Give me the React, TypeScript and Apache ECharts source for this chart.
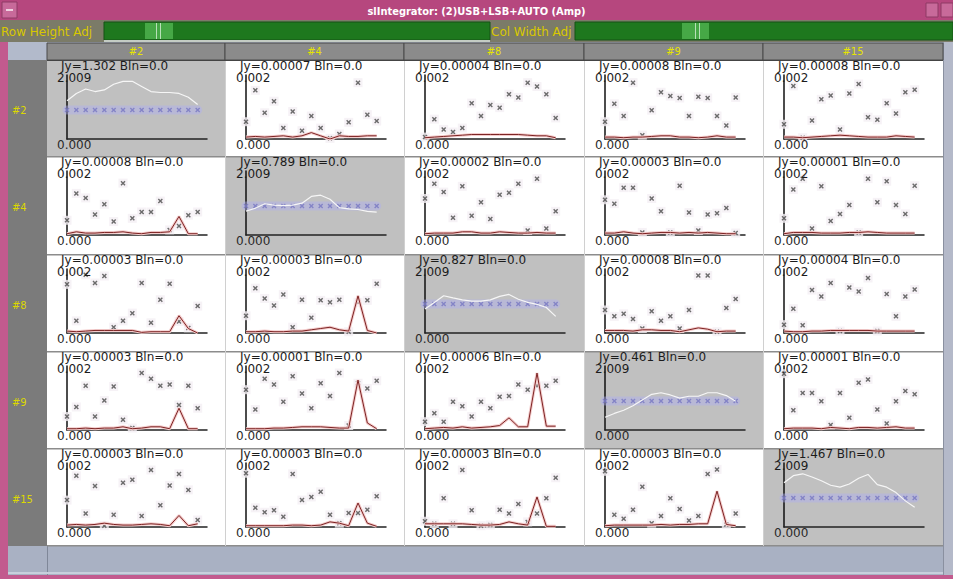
import React, { useEffect, useRef } from "react";
import * as echarts from "echarts";

// ---------- data ----------
const windowTitle = "slIntegrator: (2)USB+LSB+AUTO (Amp)";
const rowAdjLabel = "Row Height Adj";
const colAdjLabel = "Col Width Adj";
const antennas = ["#2", "#4", "#8", "#9", "#15"];
const jyValues = [
  ["1.302", "0.00007", "0.00004", "0.00008", "0.00008"],
  ["0.00008", "0.789", "0.00002", "0.00003", "0.00001"],
  ["0.00003", "0.00003", "0.827", "0.00008", "0.00004"],
  ["0.00003", "0.00001", "0.00006", "0.461", "0.00001"],
  ["0.00003", "0.00003", "0.00003", "0.00003", "1.467"],
];
const blnValue = "0.0";
const diagAxisMax = 2.009;
const crossAxisMax = 0.002;
const axisMin = 0;
const sampleCount = 15;

// diagonal (autocorrelation) cells
const closure = [0.91, 0.91, 0.91, 0.91, 0.91, 0.91, 0.91, 0.91, 0.91, 0.91, 0.91, 0.91, 0.91, 0.91, 0.91];
const amp_2_2 = [1.2, 1.43, 1.57, 1.49, 1.54, 1.72, 1.81, 1.81, 1.65, 1.49, 1.46, 1.46, 1.43, 1.31, 1.08];
const amp_4_4 = [0.75, 0.84, 0.98, 0.94, 0.92, 0.94, 1.0, 1.21, 1.25, 1.12, 0.86, 0.82, 0.8, 0.74, 0.72];
const amp_8_8 = [0.75, 0.96, 1.17, 1.1, 1.04, 1.0, 1.0, 1.04, 1.15, 1.21, 1.06, 0.96, 0.9, 0.8, 0.52];
const amp_9_9 = [0.4, 0.52, 0.62, 0.76, 0.94, 1.12, 1.17, 1.1, 1.0, 1.06, 1.06, 1.17, 1.17, 1.08, 0.9];
const amp_15_15 = [1.39, 1.61, 1.67, 1.57, 1.45, 1.31, 1.25, 1.35, 1.53, 1.65, 1.33, 1.25, 1.08, 0.82, 0.62];

// cross cells: scattered points and amplitude line
const pts_2_4 = [0.00054, 0.00152, 0.00082, 0.00118, 0.00034, 0.00086, 0.00026, 0.00072, 0.00034, 0.00002, 0.00016, 0.00052, 0.00176, 0.00076, 0.00056];
const amp_2_4 = [0.00006, 0.00008, 0.00006, 0.00008, 0.0001, 0.00006, 0.0001, 0.0002, 0.0001, 0.0, 0.0001, 0.00008, 0.00008, 0.0001, 0.0001];
const pts_2_8 = [0.00006, 0.00062, 0.0003, 0.00022, 0.00034, 0.00112, 0.00072, 0.00106, 0.00098, 0.0014, 0.0013, 0.00176, 0.00164, 0.0014, 0.00066];
const amp_2_8 = [0.00004, 0.00006, 0.00008, 0.0001, 0.00012, 0.00014, 0.00014, 0.00014, 0.00014, 0.00014, 0.00014, 0.00012, 0.0001, 0.0001, 0.00004];
const pts_2_9 = [0.00054, 0.0011, 0.00072, 0.00176, 0.00012, 0.0009, 0.00146, 0.00134, 0.00128, 0.00072, 0.00132, 0.00128, 0.00072, 0.00042, 0.0013];
const amp_2_9 = [0.00006, 0.00006, 0.00004, 0.00006, 0.00006, 0.00008, 0.0001, 0.0001, 0.00006, 0.00006, 0.00004, 0.00006, 0.0001, 0.00006, 0.00006];
const pts_2_15 = [0.00046, 0.00166, 0.00004, 0.00058, 0.00124, 0.00136, 0.0003, 0.00142, 0.00172, 0.00068, 0.0006, 0.00112, 0.0008, 0.00146, 0.00154];
const amp_2_15 = [0.00006, 0.00006, 0.00004, 0.00006, 0.00008, 0.0001, 0.00012, 0.0001, 0.00008, 0.00006, 0.00006, 0.00006, 0.0001, 0.00008, 0.00006];

const pts_4_2 = [0.00046, 0.0013, 0.00116, 0.00064, 0.00096, 0.00042, 0.00162, 0.00052, 0.00072, 0.00072, 0.00106, 0.00016, 0.00028, 0.00062, 0.00072];
const amp_4_2 = [0.00004, 0.0001, 0.00006, 0.00006, 0.00008, 0.00008, 0.0001, 0.00006, 0.00004, 0.00008, 0.00008, 0.0001, 0.00058, 0.00004, 0.00004];
const pts_4_8 = [0.00114, 0.0016, 0.00134, 0.00054, 0.00152, 0.0006, 0.00102, 0.0005, 0.00126, 0.00132, 0.0016, 0.00014, 0.00176, 0.0002, 0.00074];
const amp_4_8 = [0.00004, 0.00006, 0.00006, 0.00006, 0.0001, 0.0001, 0.00006, 0.00006, 0.0001, 0.00008, 0.00006, 0.00006, 0.00008, 0.00006, 0.00006];
const pts_4_9 = [0.0011, 0.00098, 0.00148, 0.00148, 0.00008, 0.00114, 0.00074, 0.00008, 0.00154, 0.0007, 0.00014, 0.00064, 0.00068, 0.00084, 0.00006];
const amp_4_9 = [0.00006, 0.00006, 0.0001, 0.00006, 0.00004, 0.00006, 0.00008, 0.00008, 0.00006, 0.00008, 0.00006, 0.00008, 0.00006, 0.00004, 0.00004];
const pts_4_15 = [0.00052, 0.00142, 0.00176, 0.0002, 0.00152, 0.00044, 0.00066, 0.00094, 0.00008, 0.00176, 0.00102, 0.00168, 0.00094, 0.00066, 0.00154];
const amp_4_15 = [0.00004, 0.00008, 0.00008, 0.00008, 0.00006, 0.00006, 0.00006, 0.00008, 0.00008, 0.0001, 0.00008, 0.00006, 0.00006, 0.00006, 0.00006];

const pts_8_2 = [0.00152, 0.00038, 0.00182, 0.00156, 0.00178, 0.00018, 0.00038, 0.00062, 0.00156, 0.00032, 0.00104, 0.00154, 0.00036, 0.00016, 0.00084];
const amp_8_2 = [0.00006, 0.00004, 0.00006, 0.00008, 0.00008, 0.00008, 0.00008, 0.00008, 0.00002, 0.00004, 0.00004, 0.00004, 0.00054, 0.00014, 0.0];
const pts_8_4 = [0.00054, 0.0014, 0.00108, 0.00086, 0.0012, 0.00018, 0.00104, 0.00048, 0.00102, 0.00096, 0.00104, 0.00004, 0.00096, 0.00102, 0.00154];
const amp_8_4 = [0.00004, 0.00004, 0.00006, 0.00004, 0.00004, 0.00006, 0.00006, 0.0001, 0.00014, 0.00018, 0.0001, 0.00006, 0.00116, 0.00008, 0.0];
const pts_8_9 = [0.00072, 0.00052, 0.0006, 0.00044, 0.00014, 0.00068, 0.00038, 0.00052, 0.00014, 0.00072, 0.0018, 0.0018, 0.00004, 0.00078, 0.00106];
const amp_8_9 = [0.00008, 0.00008, 0.00008, 0.00006, 0.0001, 0.0001, 0.00008, 0.00008, 0.00004, 0.0001, 0.00016, 0.00012, 0.00004, 0.00006, 0.00006];
const pts_8_15 = [0.00026, 0.00076, 0.00024, 0.00134, 0.00114, 0.00156, 0.00006, 0.00142, 0.0013, 0.00172, 0.00006, 0.00122, 0.00052, 0.00114, 0.00136];
const amp_8_15 = [0.00006, 0.00004, 0.00004, 0.00006, 0.00006, 0.00008, 0.00008, 0.00008, 0.00008, 0.00008, 0.00006, 0.00006, 0.00006, 0.00006, 0.00006];

const pts_9_2 = [0.00042, 0.00072, 0.00138, 0.00042, 0.00092, 0.00136, 0.00032, 0.00006, 0.00178, 0.0016, 0.00138, 0.00142, 0.00078, 0.00138, 0.00068];
const amp_9_2 = [0.00004, 0.00004, 0.00006, 0.00004, 0.00006, 0.00006, 0.0001, 0.00004, 0.00006, 0.0001, 0.0001, 0.00004, 0.00068, 0.00004, 0.00004];
const pts_9_4 = [0.00126, 0.00064, 0.0016, 0.00142, 0.00088, 0.00168, 0.00114, 0.00068, 0.00146, 0.00106, 0.00178, 0.00014, 0.00146, 0.0013, 0.00154];
const amp_9_4 = [0.00004, 0.00004, 0.00004, 0.00006, 0.00006, 0.00008, 0.0001, 0.0001, 0.0001, 0.00008, 0.00006, 0.00006, 0.00156, 0.00022, 0.00004];
const pts_9_8 = [0.00026, 0.00052, 0.00026, 0.00088, 0.00074, 0.00042, 0.00088, 0.00068, 0.00104, 0.00106, 0.00142, 0.00126, 0.00138, 0.00138, 0.00154];
const amp_9_8 = [0.00004, 0.00006, 0.00008, 0.00006, 0.0001, 0.00006, 0.00008, 0.0001, 0.00014, 0.00038, 0.0001, 0.0001, 0.00178, 0.00012, 0.00012];
const pts_9_15 = [0.00176, 0.00062, 0.00116, 0.00116, 0.0009, 0.00016, 0.00116, 0.00038, 0.00148, 0.00158, 0.00064, 0.0002, 0.0009, 0.00122, 0.00112];
const amp_9_15 = [0.00004, 0.00006, 0.00006, 0.00006, 0.00004, 0.00008, 0.00006, 0.00004, 0.00008, 0.00008, 0.00006, 0.00008, 0.0001, 0.00006, 0.00006];

const pts_15_2 = [0.00084, 0.0016, 0.00042, 0.00128, 0.00004, 0.00038, 0.00138, 0.00148, 0.00034, 0.00178, 0.00068, 0.0013, 0.00166, 0.00116, 0.00022];
const amp_15_2 = [0.00006, 0.00008, 0.00006, 0.00008, 0.00012, 0.00008, 0.00006, 0.00006, 0.00008, 0.0001, 0.00008, 0.00004, 0.00036, 0.00004, 0.0001];
const pts_15_4 = [0.00168, 0.0006, 0.00046, 0.00052, 0.00032, 0.00166, 0.00084, 0.00094, 0.0011, 0.00038, 0.00012, 0.00044, 0.00044, 0.00054, 0.00096];
const amp_15_4 = [0.00004, 0.00004, 0.00004, 0.00004, 0.00004, 0.00006, 0.00006, 0.00004, 0.00006, 0.00016, 0.00012, 0.00004, 0.00075, 0.00012, 0.00002];
const pts_15_8 = [0.00018, 0.0001, 0.0009, 0.0001, 0.00178, 0.00052, 0.00004, 0.00006, 0.00054, 0.00042, 0.00072, 0.00016, 0.00042, 0.0009, 0.00154];
const amp_15_8 = [0.0001, 0.0001, 0.0001, 0.0001, 0.0001, 0.00008, 0.00006, 0.00006, 0.00008, 0.00016, 0.0001, 0.00006, 0.00094, 0.00002, 0.00002];
const pts_15_9 = [0.00174, 0.00038, 0.00026, 0.00054, 0.00126, 0.00012, 0.00034, 0.0009, 0.00056, 0.0002, 0.00034, 0.00166, 0.0018, 0.00008, 0.00042];
const amp_15_9 = [0.00004, 0.00006, 0.00006, 0.00006, 0.00006, 0.00006, 0.00008, 0.00006, 0.00008, 0.00008, 0.0001, 0.0001, 0.00112, 0.00008, 0.00004];

// lookup tables built from the arrays above
const diagAmp = [amp_2_2, amp_4_4, amp_8_8, amp_9_9, amp_15_15];
const crossPts = [
  [null, pts_2_4, pts_2_8, pts_2_9, pts_2_15],
  [pts_4_2, null, pts_4_8, pts_4_9, pts_4_15],
  [pts_8_2, pts_8_4, null, pts_8_9, pts_8_15],
  [pts_9_2, pts_9_4, pts_9_8, null, pts_9_15],
  [pts_15_2, pts_15_4, pts_15_8, pts_15_9, null],
];
const crossAmp = [
  [null, amp_2_4, amp_2_8, amp_2_9, amp_2_15],
  [amp_4_2, null, amp_4_8, amp_4_9, amp_4_15],
  [amp_8_2, amp_8_4, null, amp_8_9, amp_8_15],
  [amp_9_2, amp_9_4, amp_9_8, null, amp_9_15],
  [amp_15_2, amp_15_4, amp_15_8, amp_15_9, null],
];

// ---------- layout ----------
const W = 953;
const H = 579;
const colX = [47, 225, 404, 584, 763, 943];
const rowY = [60, 157, 255, 352, 449, 546];
const axisL = [67, 246, 425, 605, 784];
const axisB = [139, 235, 333, 430, 527];
const plotW = 140;
const plotH = 64;
const FONT = '"DejaVu Sans", sans-serif';
const COND = '"DejaVu Sans Condensed", "DejaVu Sans", sans-serif';
const xSym = "path://M0,2L2,0L5,3L8,0L10,2L7,5L10,8L8,10L5,7L2,10L0,8L3,5Z";

const toXY = (arr: number[]) => arr.map((v, i) => [i, v]);

function buildOption() {
  const grid: any[] = [];
  const xAxis: any[] = [];
  const yAxis: any[] = [];
  const series: any[] = [];
  const g: any[] = [];

  // window chrome
  g.push({ type: "rect", shape: { x: 0, y: 0, width: W, height: H }, style: { fill: "#c25a8e" }, z: -20 });
  g.push({ type: "rect", shape: { x: 0, y: 0, width: W, height: 20 }, style: { fill: "#b6477e" }, z: -19 });
  g.push({ type: "rect", shape: { x: 2, y: 2, width: 15, height: 16 }, style: { fill: "#c86a9a", stroke: "#8e3a64", lineWidth: 1 }, z: -18 });
  g.push({ type: "rect", shape: { x: 6, y: 9, width: 7, height: 2 }, style: { fill: "#f0d0e0" }, z: -17 });
  g.push({ type: "rect", shape: { x: 926, y: 3, width: 12, height: 14 }, style: { fill: "#c86a9a", stroke: "#8e3a64", lineWidth: 1 }, z: -18 });
  g.push({ type: "rect", shape: { x: 941, y: 3, width: 12, height: 14 }, style: { fill: "#c86a9a", stroke: "#8e3a64", lineWidth: 1 }, z: -18 });
  g.push({
    type: "text", x: W / 2, y: 11,
    style: { text: windowTitle, fill: "#ffffff", font: `bold 11px ${COND}`, textAlign: "center", textVerticalAlign: "middle" }, z: 5,
  });
  // adjust strip
  g.push({ type: "rect", shape: { x: 0, y: 20, width: W, height: 22 }, style: { fill: "#7b7b68" }, z: -19 });
  g.push({ type: "text", x: 1, y: 32, style: { text: rowAdjLabel, fill: "#d9c800", font: `12px ${FONT}`, textVerticalAlign: "middle" }, z: 5 });
  g.push({ type: "rect", shape: { x: 104, y: 22, width: 386, height: 18 }, style: { fill: "#1e781e", stroke: "#145214", lineWidth: 1 }, z: -18 });
  g.push({ type: "rect", shape: { x: 104, y: 40, width: 386, height: 2 }, style: { fill: "#c4ccc4" }, z: -18 });
  g.push({ type: "rect", shape: { x: 145, y: 23, width: 28, height: 16 }, style: { fill: "#46a846" }, z: -17 });
  g.push({ type: "rect", shape: { x: 156, y: 23, width: 1, height: 16 }, style: { fill: "#b8e0b8" }, z: -16 });
  g.push({ type: "rect", shape: { x: 160, y: 23, width: 1, height: 16 }, style: { fill: "#b8e0b8" }, z: -16 });
  g.push({ type: "text", x: 491, y: 32, style: { text: colAdjLabel, fill: "#d9c800", font: `12px ${FONT}`, textVerticalAlign: "middle" }, z: 5 });
  g.push({ type: "rect", shape: { x: 575, y: 22, width: 378, height: 18 }, style: { fill: "#1e781e", stroke: "#145214", lineWidth: 1 }, z: -18 });
  g.push({ type: "rect", shape: { x: 682, y: 23, width: 27, height: 16 }, style: { fill: "#46a846" }, z: -17 });
  g.push({ type: "rect", shape: { x: 695, y: 23, width: 1, height: 16 }, style: { fill: "#b8e0b8" }, z: -16 });
  g.push({ type: "rect", shape: { x: 699, y: 23, width: 1, height: 16 }, style: { fill: "#b8e0b8" }, z: -16 });
  // header row, left column, bottom and right strips
  g.push({ type: "rect", shape: { x: 8, y: 42, width: 935, height: 18 }, style: { fill: "#b2bacb" }, z: -18 });
  g.push({ type: "rect", shape: { x: 8, y: 60, width: 39, height: 487 }, style: { fill: "#7b7b7b" }, z: -18 });
  g.push({ type: "rect", shape: { x: 8, y: 546, width: 935, height: 29 }, style: { fill: "#a9b1c3" }, z: -18 });
  g.push({ type: "rect", shape: { x: 47, y: 546, width: 1, height: 29 }, style: { fill: "#7f8798" }, z: -17 });
  g.push({ type: "rect", shape: { x: 8, y: 572, width: 935, height: 2 }, style: { fill: "#c8cfdc" }, z: -17 });
  g.push({ type: "rect", shape: { x: 943, y: 42, width: 10, height: 533 }, style: { fill: "#b4b9c9" }, z: -18 });
  g.push({ type: "rect", shape: { x: 943, y: 42, width: 1, height: 533 }, style: { fill: "#8a90a0" }, z: -17 });

  antennas.forEach((name, c) => {
    g.push({
      type: "rect", shape: { x: colX[c], y: 43, width: colX[c + 1] - colX[c], height: 17 },
      style: { fill: "#8b8b8b", stroke: "#4a4a4a", lineWidth: 1 }, z: -17,
    });
    g.push({
      type: "text", x: (colX[c] + colX[c + 1]) / 2, y: 51.5,
      style: { text: name, fill: "#e6e400", font: `11px ${COND}`, textAlign: "center", textVerticalAlign: "middle" }, z: 5,
    });
  });
  antennas.forEach((name, r) => {
    g.push({
      type: "text", x: 12, y: (rowY[r] + rowY[r + 1]) / 2 + 1.5,
      style: { text: name, fill: "#dcd800", font: `11px ${COND}`, textVerticalAlign: "middle" }, z: 5,
    });
  });

  antennas.forEach((_ra, r) => {
    antennas.forEach((_ca, c) => {
      const idx = grid.length;
      const diag = r === c;
      const max = diag ? diagAxisMax : crossAxisMax;
      // cell background
      g.push({
        type: "rect", shape: { x: colX[c], y: rowY[r], width: colX[c + 1] - colX[c], height: rowY[r + 1] - rowY[r] },
        style: { fill: diag ? "#c0c0c0" : "#ffffff" }, z: -15,
      });
      // texts
      g.push({
        type: "text", x: axisL[c] - 6, y: axisB[r] - 73,
        style: { text: `Jy=${jyValues[r][c]} Bln=${blnValue}`, fill: "#1c1c1c", font: `12px ${FONT}`, textVerticalAlign: "middle" }, z: 6,
      });
      g.push({
        type: "text", x: axisL[c] - 10, y: axisB[r] - 61.5,
        style: { text: max.toFixed(3), fill: "#1c1c1c", font: `12px ${FONT}`, textVerticalAlign: "middle" }, z: 6,
      });
      g.push({
        type: "text", x: axisL[c] - 10, y: axisB[r] + 5.5,
        style: { text: axisMin.toFixed(3), fill: "#2a2a2a", font: `12px ${FONT}`, textVerticalAlign: "middle" }, z: 6,
      });

      grid.push({ left: axisL[c], top: axisB[r] - plotH, width: plotW, height: plotH, containLabel: false });
      xAxis.push({
        gridIndex: idx, type: "value", min: 0, max: sampleCount,
        axisLine: { show: true, onZero: false, lineStyle: { color: "#222", width: 1.5 } },
        axisTick: { show: false }, axisLabel: { show: false }, splitLine: { show: false },
      });
      yAxis.push({
        gridIndex: idx, type: "value", min: axisMin, max,
        axisLine: { show: true, lineStyle: { color: "#111", width: 1.5 } },
        axisTick: { show: false }, axisLabel: { show: false }, splitLine: { show: false },
      });

      if (diag) {
        series.push({
          type: "line", xAxisIndex: idx, yAxisIndex: idx, data: toXY(closure), showSymbol: false, silent: true,
          lineStyle: { color: "rgba(175,175,245,0.42)", width: 9, cap: "round" },
        });
        series.push({
          type: "line", xAxisIndex: idx, yAxisIndex: idx, data: toXY(diagAmp[r]), showSymbol: false, silent: true,
          lineStyle: { color: "#f6f6f6", width: 1.2 },
        });
        series.push({
          type: "scatter", xAxisIndex: idx, yAxisIndex: idx, data: toXY(closure), symbol: xSym, symbolSize: 5, silent: true,
          itemStyle: { color: "#50509e" },
        });
      } else {
        const pts = crossPts[r][c] as number[];
        const amp = crossAmp[r][c] as number[];
        series.push({
          type: "scatter", xAxisIndex: idx, yAxisIndex: idx, data: toXY(pts), symbol: "rect", symbolSize: 9, silent: true,
          itemStyle: { color: "#f4eff4" },
        });
        series.push({
          type: "line", xAxisIndex: idx, yAxisIndex: idx, data: toXY(amp), showSymbol: false, silent: true,
          lineStyle: { color: "#f4cdcd", width: 3 },
        });
        series.push({
          type: "line", xAxisIndex: idx, yAxisIndex: idx, data: toXY(amp), showSymbol: false, silent: true,
          lineStyle: { color: "#7c2222", width: 1 },
        });
        series.push({
          type: "scatter", xAxisIndex: idx, yAxisIndex: idx, data: toXY(pts), symbol: xSym, symbolSize: 5, silent: true,
          itemStyle: { color: "#4a4a4a" },
        });
      }
    });
  });

  // cell separators
  for (let r = 1; r <= antennas.length; r++) {
    g.push({ type: "rect", shape: { x: colX[0], y: rowY[r] - 1, width: colX[5] - colX[0], height: 1.5 }, style: { fill: "#8c8c8c" }, z: -12 });
  }
  for (let c = 1; c < antennas.length; c++) {
    g.push({ type: "rect", shape: { x: colX[c], y: rowY[0], width: 1, height: rowY[5] - rowY[0] }, style: { fill: "#d0d0d0" }, z: -12 });
  }
  g.push({ type: "rect", shape: { x: colX[0], y: rowY[0], width: colX[5] - colX[0], height: 1 }, style: { fill: "#444" }, z: -12 });

  return {
    animation: false,
    backgroundColor: "#c25a8e",
    grid, xAxis, yAxis, series,
    graphic: { elements: g },
  };
}

export default function App() {
  const ref = useRef<HTMLDivElement>(null);
  useEffect(() => {
    if (!ref.current) return;
    const chart = echarts.init(ref.current, undefined, { renderer: "svg" });
    chart.setOption(buildOption() as any);
    return () => chart.dispose();
  }, []);
  return <div ref={ref} style={{ position: "fixed", left: 0, top: 0, width: W, height: H }} />;
}
